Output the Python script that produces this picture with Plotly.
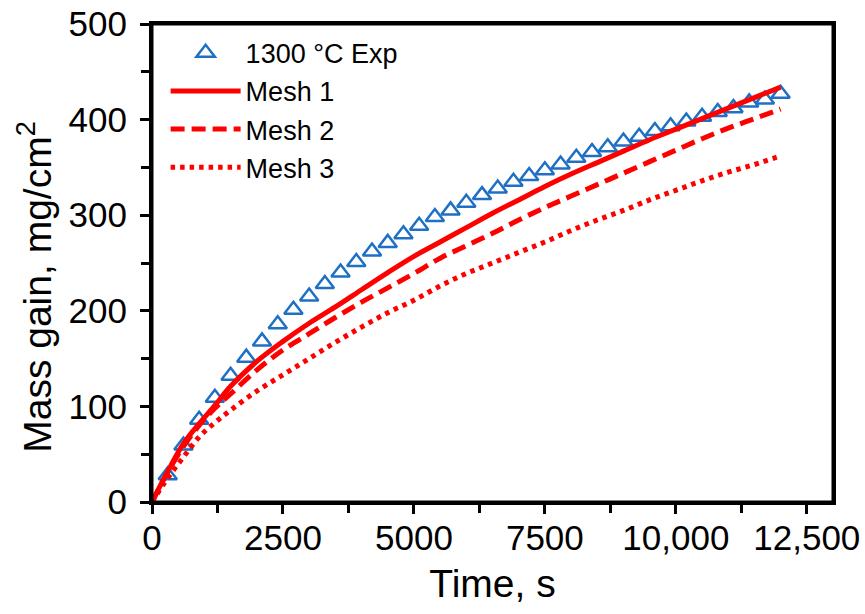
import plotly.graph_objects as go

# ---- data ----
exp_t = [300, 600, 900, 1200, 1500, 1800, 2100, 2400, 2700, 3000,
         3300, 3600, 3900, 4200, 4500, 4800, 5100, 5400, 5700, 6000,
         6300, 6600, 6900, 7200, 7500, 7800, 8100, 8400, 8700, 9000,
         9300, 9600, 9900, 10200, 10500, 10800, 11100, 11400, 11700, 12000]
exp_y = [28, 59, 86, 109, 132, 151, 168, 186, 201, 215,
         228, 240, 251, 262, 271, 280, 289, 298, 305, 313,
         321, 328, 335, 341, 347, 353, 360, 366, 371, 377,
         382, 388, 393, 398, 403, 408, 412, 418, 421, 427]

mesh_t = [0, 300, 600, 900, 1200, 1500, 2000, 2500, 3000, 3500, 4000, 4500,
          5000, 5500, 6000, 6500, 7000, 7500, 8000, 8500, 9000, 9500,
          10000, 10500, 11000, 11500, 12000]
mesh1_y = [0, 32, 61, 82, 101, 121, 147, 168, 187, 204, 222, 240,
           257, 272, 287, 302, 316, 330, 343, 355, 367, 379,
           390, 401, 412, 423, 434]
mesh2_y = [0, 31, 58, 80, 98, 113, 138, 159, 176, 193, 209, 224,
           239, 255, 268, 281, 295, 308, 320, 332, 344, 356,
           368, 380, 391, 401, 411]
mesh3_y = [0, 25, 47, 68, 83, 96, 116, 133, 150, 167, 183, 198,
           211, 226, 239, 250, 261, 272, 284, 295, 305, 316,
           326, 336, 345, 353, 362]

x_tickvals = [0, 2500, 5000, 7500, 10000, 12500]
x_ticktext = ["0", "2500", "5000", "7500", "10,000", "12,500"]
y_tickvals = [0, 100, 200, 300, 400, 500]

FONT = "Liberation Sans, Arial, sans-serif"
RED = "#FF0000"
BLUE = "#1F70C4"

fig = go.Figure()
fig.add_trace(go.Scatter(
    x=exp_t, y=exp_y, mode="markers", name="1300 °C Exp",
    marker=dict(symbol="triangle-up-open", size=16, color=BLUE,
                line=dict(width=2.5, color=BLUE))))
fig.add_trace(go.Scatter(
    x=mesh_t, y=mesh1_y, mode="lines", name="Mesh 1",
    line=dict(color=RED, width=5, shape="spline")))
fig.add_trace(go.Scatter(
    x=mesh_t, y=mesh2_y, mode="lines", name="Mesh 2",
    line=dict(color=RED, width=5, dash="14px,7px", shape="spline")))
fig.add_trace(go.Scatter(
    x=mesh_t, y=mesh3_y, mode="lines", name="Mesh 3",
    line=dict(color=RED, width=5, dash="4.5px,5px", shape="spline")))

fig.update_layout(
    width=865, height=614,
    margin=dict(l=152, r=32, t=24, b=112),
    paper_bgcolor="white", plot_bgcolor="white",
    font=dict(family=FONT, color="black"),
    showlegend=True,
    legend=dict(x=0.02, y=0.99, xanchor="left", yanchor="top",
                bgcolor="rgba(0,0,0,0)", font=dict(size=27, family=FONT),
                itemwidth=70, tracegroupgap=0),
    xaxis=dict(range=[0, 13000], tickvals=x_tickvals, ticktext=x_ticktext,
               automargin=False,
               showline=True, linecolor="black", linewidth=3, mirror=True,
               ticks="outside", ticklen=9, tickwidth=3, tickcolor="black",
               ticklabelstandoff=-6,
               minor=dict(dtick=1250, ticks="outside", ticklen=8, tickwidth=3,
                          tickcolor="black", showgrid=False),
               showgrid=False, zeroline=False,
               tickfont=dict(size=35, family=FONT),
               title=dict(text="Time, s", font=dict(size=39, family=FONT), standoff=14)),
    yaxis=dict(range=[0, 500], tickvals=y_tickvals,
               automargin=False,
               showline=True, linecolor="black", linewidth=3, mirror=True,
               ticks="outside", ticklen=9, tickwidth=3, tickcolor="black",
               ticklabelstandoff=6,
               minor=dict(dtick=50, ticks="outside", ticklen=8, tickwidth=3,
                          tickcolor="black", showgrid=False),
               showgrid=False, zeroline=False,
               tickfont=dict(size=35, family=FONT)),
    shapes=[dict(type="rect", xref="paper", yref="paper", x0=0, x1=1, y0=0, y1=1,
                 line=dict(color="black", width=3), fillcolor="rgba(0,0,0,0)",
                 layer="above")],
    annotations=[dict(text="Mass gain, mg/cm<sup>2</sup>", textangle=-90,
                      xref="paper", yref="paper", x=-0.172, y=0.45,
                      xanchor="center", yanchor="middle", showarrow=False,
                      font=dict(size=39, family=FONT, color="black"))],
)

fig.write_html("out.html", config={"displayModeBar": False},
               post_script="document.body.style.margin='0px';")
